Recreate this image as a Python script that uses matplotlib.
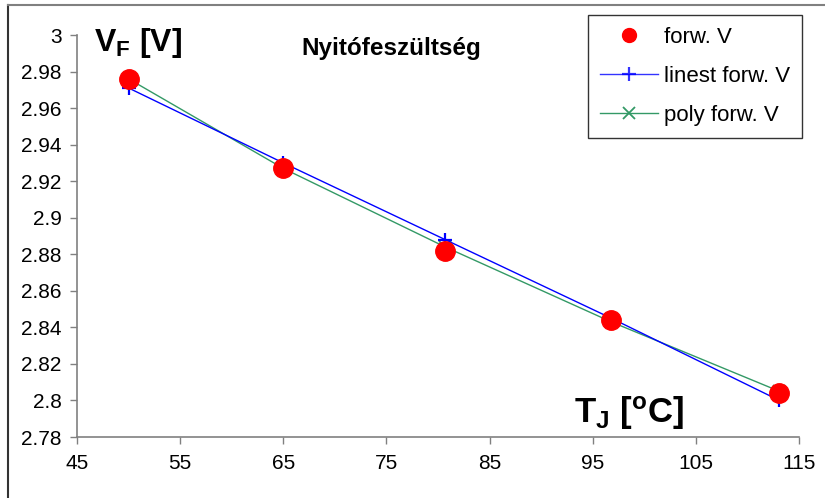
import matplotlib
matplotlib.use("Agg")
import matplotlib.pyplot as plt
from matplotlib.lines import Line2D

plt.rcParams['font.family'] = ['Liberation Sans', 'DejaVu Sans']
plt.rcParams['mathtext.fontset'] = 'custom'
plt.rcParams['mathtext.rm'] = 'Liberation Sans'
plt.rcParams['mathtext.bf'] = 'Liberation Sans:bold'
plt.rcParams['mathtext.it'] = 'Liberation Sans:italic'

# data
T_J = [50, 65, 80.7, 96.8, 113.1]
V_forw = [2.976, 2.927, 2.882, 2.844, 2.804]
V_linest = [2.971, 2.930, 2.888, 2.845, 2.800]
V_poly = [2.976, 2.927, 2.884, 2.843, 2.805]
x_ticks = [45, 55, 65, 75, 85, 95, 105, 115]
y_ticks = [2.78, 2.80, 2.82, 2.84, 2.86, 2.88, 2.90, 2.92, 2.94, 2.96, 2.98, 3.00]
y_labels = ['2.78', '2.8', '2.82', '2.84', '2.86', '2.88', '2.9', '2.92', '2.94', '2.96', '2.98', '3']

fig = plt.figure(figsize=(8.25, 4.98), dpi=100)
ax = fig.add_axes([77/825, 1-437/498, (799-77)/825, (437-35)/498])

green = '#339966'
ax.plot(T_J, V_linest, color='#0000FF', lw=1.0, marker='+', ms=10, mew=1.6, zorder=3)
ax.plot(T_J, V_poly, color=green, lw=1.0, marker='x', ms=9, mew=1.3, zorder=2)
ax.plot(T_J, V_forw, ls='none', marker='o', ms=14, color='#FF0000', zorder=4)

ax.set_xlim(45, 115)
ax.set_ylim(2.78, 3.0)
ax.set_xticks(x_ticks)
ax.set_xticklabels([str(v) for v in x_ticks])
ax.set_yticks(y_ticks)
ax.set_yticklabels(y_labels)
for s in ['top', 'right']:
    ax.spines[s].set_visible(False)
for s in ['left', 'bottom']:
    ax.spines[s].set_color('#808080')
    ax.spines[s].set_linewidth(1.2)
ax.tick_params(axis='both', colors='#808080', labelcolor='black', labelsize=15,
               length=5, width=1.0, direction='out')
ax.tick_params(axis='x', pad=7)
ax.tick_params(axis='y', pad=6)

ax.text(0.435, 0.995, 'Nyitófeszültség', transform=ax.transAxes, ha='center', va='top',
        fontsize=17.5, fontweight='bold')
ax.text(0.024, 0.98, r'$\mathbf{V_F\ [V]}$', transform=ax.transAxes, ha='left', va='center',
        fontsize=23)
ax.text(0.689, 0.06, r'$\mathbf{T_J\ [^oC]}$', transform=ax.transAxes, ha='left', va='center',
        fontsize=25)

handles = [
    Line2D([], [], ls='none', marker='o', ms=10, color='#FF0000'),
    Line2D([], [], color='#0000FF', lw=1.0, alpha=0.8, marker='+', ms=10, mew=1.6),
    Line2D([], [], color=green, lw=1.0, marker='x', ms=8, mew=1.3),
]
leg = fig.legend(handles, ['forw. V', 'linest forw. V', 'poly forw. V'],
                 loc='upper left', bbox_to_anchor=(588/825, 1-15/498),
                 frameon=True, fancybox=False, fontsize=16, handlelength=2.6,
                 labelspacing=0.8, borderpad=0.55, handletextpad=0.25, borderaxespad=0)
leg.get_frame().set_edgecolor('#000000')
leg.get_frame().set_linewidth(1.0)

# outer chart-area border
fig.add_artist(Line2D([8/825, 8/825], [0, 1-5/498], transform=fig.transFigure,
                      color='#333333', lw=1.5))
fig.add_artist(Line2D([8/825, 1], [1-5/498, 1-5/498], transform=fig.transFigure,
                      color='#808080', lw=1.5))

fig.savefig('out.png', dpi=100)
